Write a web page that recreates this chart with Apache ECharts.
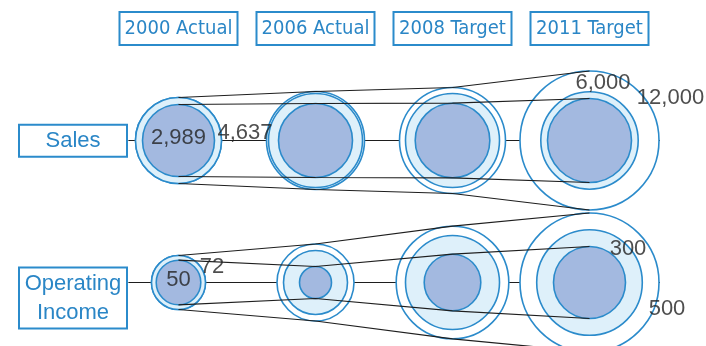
<!DOCTYPE html>
<html><head><meta charset="utf-8">
<script src="https://cdn.jsdelivr.net/npm/echarts@6/dist/echarts.min.js"></script>
<style>html,body{margin:0;padding:0;background:#fff}#c{width:706px;height:346px}</style>
</head><body><div id="c"></div>
<script>
// ---- data ----
const columns = ['2000 Actual', '2006 Actual', '2008 Target', '2011 Target'];
const rowNames = ['Sales', 'Operating\nIncome'];
// bubble radii (outer ring, middle light disc, inner dark disc)
const salesOuter  = [43, 49, 53, 69.5];
const salesMiddle = [43, 47, 47, 48.7];
const salesInner  = [36, 37, 37.3, 42];
const incomeOuter  = [27, 38.5, 56.3, 69.5];
const incomeMiddle = [27, 32, 47, 52.8];
const incomeInner  = [22.3, 16, 28.3, 36];
// printed figures
const salesFigures  = [2989, 4637, 6000, 12000];
const incomeFigures = [50, 72, 300, 500];
const salesFigureCols  = [0, 1, 3, 3];
const incomeFigureCols = [0, 1, 3, 3];

// ---- layout ----
const gridTop = 140.5, gridH = 142, gridLeft = 110, gridW = 548;
const rowVal = [gridH, 0]; // Sales (top), Operating Income (bottom)
const salesOffsets  = [[0, -3], [-70.5, -8], [13.5, -58], [81, -43]];
const incomeOffsets = [[0, -2.5], [-103.5, -16], [38.5, -34], [77.5, 26]];
const BLUE = '#2b8bcb', LIGHT = '#def0fa', DARK = '#a3b9e0', INK = '#1e1e1e', TXT = '#222222';

function discSeries(radii, row, fill, z) {
  return {
    type: 'scatter', xAxisIndex: 0, yAxisIndex: 1, z: z, silent: true, clip: false,
    data: radii.map((r, i) => [i, rowVal[row], r]),
    symbolSize: d => d[2] * 2,
    itemStyle: { color: fill, borderColor: BLUE, borderWidth: 1.6, opacity: 1 },
    emphasis: { disabled: true }
  };
}
function edgeLine(radii, row, sign) {
  return {
    type: 'line', xAxisIndex: 0, yAxisIndex: 1, z: 10, silent: true, clip: false,
    data: radii.map(r => rowVal[row] + sign * r),
    symbol: 'none', lineStyle: { color: INK, width: 1.2 }
  };
}
function centerLine(row) {
  return {
    type: 'line', xAxisIndex: 1, yAxisIndex: 1, z: 1, clip: false, silent: true,
    data: [[-0.366, rowVal[row]], [3.81, rowVal[row]]],
    symbol: 'none', lineStyle: { color: INK, width: 1.2 }
  };
}
function figureSeries(figs, cols, offs, row) {
  return {
    type: 'scatter', xAxisIndex: 0, yAxisIndex: 1, z: 20, silent: true, clip: false,
    symbolSize: 1, itemStyle: { color: 'rgba(0,0,0,0)' },
    data: figs.map((v, i) => ({
      value: [cols[i], rowVal[row]],
      label: { offset: offs[i] },
      name: v.toLocaleString('en-US')
    })),
    label: { show: true, position: 'inside', formatter: p => p.name,
      color: TXT, fontSize: 22, fontFamily: 'Liberation Sans, Arial, sans-serif' }
  };
}

const chart = echarts.init(document.getElementById('c'), null, { renderer: 'canvas' });
chart.setOption({
  animation: false,
  backgroundColor: '#ffffff',
  grid: [
    { left: gridLeft, top: gridTop, width: gridW, height: gridH },
    { left: gridLeft, top: 140.7, width: gridW, height: 157.3 }   // row-label grid
  ],
  xAxis: [
    { type: 'category', position: 'top', data: columns,
      axisLine: { show: false }, axisTick: { show: false }, splitLine: { show: false },
      axisLabel: { interval: 0, margin: 95.5, width: 118, align: 'center', lineHeight: 24,
        padding: [4.5, 0, 4.5, 0], borderColor: BLUE, borderWidth: 2, color: '#2a86c6',
        fontSize: 20, fontFamily: "'Liberation Sans Narrow', 'DejaVu Sans Condensed', 'Roboto Condensed', sans-serif" } },
    { type: 'value', min: -0.5, max: 3.5, show: false },
    { type: 'value', gridIndex: 1, show: false }
  ],
  yAxis: [
    { type: 'category', gridIndex: 1, boundaryGap: false, data: rowNames.slice().reverse(),
      axisLine: { show: false }, axisTick: { show: false }, splitLine: { show: false },
      axisLabel: { interval: 0, margin: 37, width: 108, align: 'center', lineHeight: 29,
        padding: [1.5, 0, 1.5, 0], borderColor: BLUE, borderWidth: 2, color: '#2a86c6',
        fontSize: 22, fontFamily: 'Liberation Sans, Arial, sans-serif' } },
    { type: 'value', min: 0, max: gridH, show: false }
  ],
  series: [
    centerLine(0), centerLine(1),
    discSeries(salesOuter, 0, '#ffffff', 3),
    discSeries(salesMiddle, 0, LIGHT, 4),
    discSeries(salesInner, 0, DARK, 5),
    discSeries(incomeOuter, 1, '#ffffff', 3),
    discSeries(incomeMiddle, 1, LIGHT, 4),
    discSeries(incomeInner, 1, DARK, 5),
    edgeLine(salesOuter, 0, 1), edgeLine(salesInner, 0, 1),
    edgeLine(salesInner, 0, -1), edgeLine(salesOuter, 0, -1),
    edgeLine(incomeOuter, 1, 1), edgeLine(incomeInner, 1, 1),
    edgeLine(incomeInner, 1, -1), edgeLine(incomeOuter, 1, -1),
    figureSeries(salesFigures, salesFigureCols, salesOffsets, 0),
    figureSeries(incomeFigures, incomeFigureCols, incomeOffsets, 1)
  ]
});
</script></body></html>
